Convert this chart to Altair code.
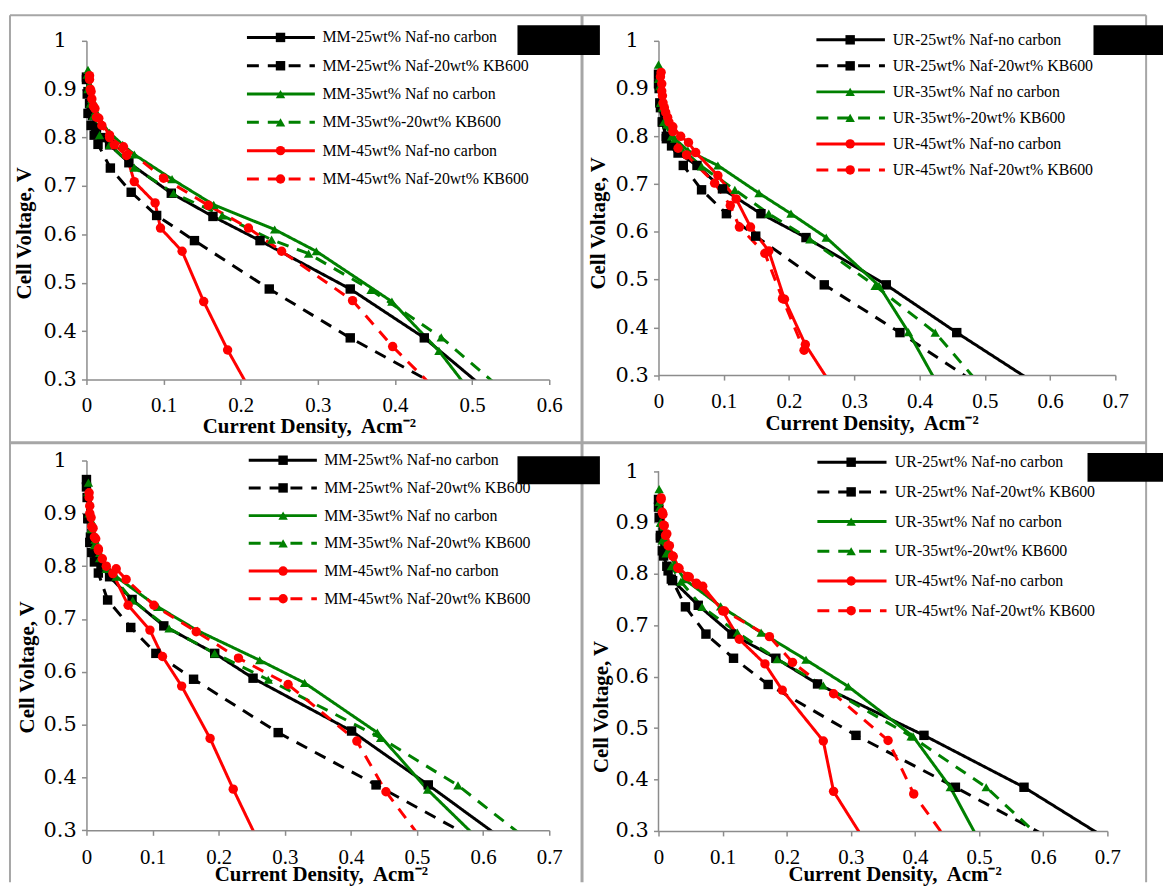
import altair as alt
import pandas as pd

# ---------------- data (current density A/cm2, cell voltage V) ----------------
# Top-left panel: MM electrodes
TL_25NC_X = [0.000, 0.002, 0.004, 0.008, 0.013, 0.020, 0.030, 0.055, 0.110, 0.164, 0.225, 0.342, 0.438, 0.525]
TL_25NC_Y = [0.925, 0.895, 0.870, 0.845, 0.820, 0.800, 0.785, 0.748, 0.685, 0.637, 0.587, 0.487, 0.386, 0.270]
TL_25KB_X = [0.000, 0.001, 0.002, 0.006, 0.010, 0.015, 0.031, 0.058, 0.091, 0.140, 0.237, 0.342, 0.475]
TL_25KB_Y = [0.920, 0.890, 0.850, 0.825, 0.805, 0.786, 0.737, 0.687, 0.639, 0.587, 0.487, 0.386, 0.270]
TL_35NC_X = [0.002, 0.004, 0.007, 0.012, 0.020, 0.030, 0.047, 0.062, 0.111, 0.165, 0.244, 0.298, 0.396, 0.457, 0.500]
TL_35NC_Y = [0.940, 0.910, 0.880, 0.855, 0.830, 0.810, 0.785, 0.765, 0.714, 0.661, 0.610, 0.565, 0.461, 0.359, 0.270]
TL_35KB_X = [0.001, 0.002, 0.005, 0.009, 0.017, 0.030, 0.062, 0.113, 0.176, 0.240, 0.288, 0.369, 0.460, 0.560]
TL_35KB_Y = [0.930, 0.900, 0.870, 0.845, 0.805, 0.785, 0.738, 0.685, 0.639, 0.589, 0.560, 0.485, 0.387, 0.250]
TL_45NC_X = [0.004, 0.005, 0.007, 0.011, 0.016, 0.030, 0.036, 0.052, 0.062, 0.089, 0.096, 0.124, 0.152, 0.183, 0.215]
TL_45NC_Y = [0.928, 0.900, 0.880, 0.860, 0.840, 0.805, 0.785, 0.763, 0.709, 0.665, 0.613, 0.565, 0.461, 0.361, 0.270]
TL_45KB_X = [0.004, 0.006, 0.009, 0.013, 0.020, 0.030, 0.048, 0.100, 0.158, 0.210, 0.253, 0.345, 0.397, 0.490]
TL_45KB_Y = [0.920, 0.895, 0.865, 0.842, 0.825, 0.800, 0.781, 0.716, 0.660, 0.613, 0.565, 0.463, 0.368, 0.220]

# Top-right panel: UR electrodes
TR_25NC_X = [0.000, 0.001, 0.003, 0.006, 0.012, 0.030, 0.059, 0.098, 0.157, 0.226, 0.349, 0.457, 0.603]
TR_25NC_Y = [0.930, 0.900, 0.860, 0.830, 0.800, 0.765, 0.739, 0.690, 0.638, 0.588, 0.489, 0.389, 0.260]
TR_25KB_X = [0.000, 0.002, 0.006, 0.012, 0.020, 0.038, 0.066, 0.104, 0.149, 0.254, 0.370, 0.512]
TR_25KB_Y = [0.910, 0.870, 0.830, 0.795, 0.780, 0.739, 0.688, 0.638, 0.591, 0.489, 0.389, 0.260]
TR_35NC_X = [0.000, 0.002, 0.006, 0.013, 0.025, 0.045, 0.091, 0.154, 0.203, 0.257, 0.338, 0.383, 0.436]
TR_35NC_Y = [0.950, 0.905, 0.860, 0.825, 0.795, 0.770, 0.739, 0.681, 0.638, 0.588, 0.487, 0.390, 0.260]
TR_35KB_X = [0.000, 0.003, 0.008, 0.020, 0.035, 0.066, 0.117, 0.169, 0.232, 0.332, 0.424, 0.505]
TR_35KB_Y = [0.920, 0.870, 0.830, 0.800, 0.775, 0.737, 0.688, 0.638, 0.584, 0.487, 0.389, 0.260]
TR_45NC_X = [0.004, 0.005, 0.006, 0.009, 0.014, 0.022, 0.034, 0.046, 0.057, 0.091, 0.119, 0.141, 0.169, 0.193, 0.225, 0.274]
TR_45NC_Y = [0.934, 0.910, 0.885, 0.860, 0.840, 0.820, 0.800, 0.787, 0.766, 0.718, 0.669, 0.610, 0.560, 0.459, 0.364, 0.260]
TR_45KB_X = [0.003, 0.005, 0.007, 0.011, 0.016, 0.022, 0.030, 0.043, 0.086, 0.110, 0.124, 0.163, 0.190, 0.223]
TR_45KB_Y = [0.925, 0.895, 0.870, 0.850, 0.830, 0.810, 0.775, 0.761, 0.702, 0.655, 0.610, 0.555, 0.460, 0.352]

# Bottom-left panel: MM electrodes
BL_25NC_X = [0.000, 0.001, 0.003, 0.006, 0.012, 0.022, 0.035, 0.069, 0.117, 0.194, 0.252, 0.401, 0.517, 0.655]
BL_25NC_Y = [0.964, 0.930, 0.890, 0.855, 0.825, 0.800, 0.780, 0.737, 0.687, 0.635, 0.588, 0.488, 0.386, 0.260]
BL_25KB_X = [0.000, 0.002, 0.005, 0.008, 0.012, 0.018, 0.032, 0.067, 0.105, 0.162, 0.290, 0.438, 0.636]
BL_25KB_Y = [0.950, 0.890, 0.845, 0.826, 0.808, 0.787, 0.736, 0.684, 0.635, 0.586, 0.485, 0.386, 0.250]
BL_35NC_X = [0.003, 0.005, 0.008, 0.013, 0.020, 0.030, 0.045, 0.108, 0.168, 0.262, 0.330, 0.440, 0.516, 0.620]
BL_35NC_Y = [0.958, 0.920, 0.885, 0.850, 0.825, 0.800, 0.780, 0.723, 0.678, 0.622, 0.579, 0.485, 0.377, 0.250]
BL_35KB_X = [0.002, 0.004, 0.007, 0.012, 0.020, 0.030, 0.070, 0.125, 0.194, 0.275, 0.445, 0.562, 0.700]
BL_35KB_Y = [0.940, 0.900, 0.870, 0.840, 0.815, 0.795, 0.735, 0.682, 0.635, 0.585, 0.475, 0.385, 0.250]
BL_45NC_X = [0.004, 0.005, 0.007, 0.010, 0.014, 0.018, 0.024, 0.040, 0.063, 0.096, 0.115, 0.144, 0.187, 0.222, 0.275]
BL_45NC_Y = [0.939, 0.914, 0.892, 0.872, 0.852, 0.833, 0.814, 0.786, 0.726, 0.679, 0.629, 0.573, 0.474, 0.378, 0.240]
BL_45KB_X = [0.004, 0.005, 0.008, 0.012, 0.018, 0.030, 0.045, 0.060, 0.102, 0.166, 0.230, 0.305, 0.409, 0.453, 0.527]
BL_45KB_Y = [0.930, 0.900, 0.875, 0.855, 0.830, 0.800, 0.795, 0.775, 0.726, 0.676, 0.626, 0.576, 0.469, 0.373, 0.250]

# Bottom-right panel: UR electrodes
BR_25NC_X = [0.000, 0.001, 0.003, 0.006, 0.013, 0.020, 0.062, 0.1145, 0.183, 0.248, 0.414, 0.570, 0.731]
BR_25NC_Y = [0.945, 0.910, 0.875, 0.845, 0.815, 0.790, 0.739, 0.683, 0.636, 0.586, 0.486, 0.385, 0.260]
BR_25KB_X = [0.000, 0.003, 0.008, 0.015, 0.022, 0.042, 0.074, 0.117, 0.171, 0.308, 0.463, 0.664]
BR_25KB_Y = [0.930, 0.870, 0.835, 0.806, 0.787, 0.736, 0.683, 0.636, 0.585, 0.486, 0.385, 0.250]
BR_35NC_X = [0.001, 0.002, 0.004, 0.008, 0.015, 0.025, 0.040, 0.097, 0.160, 0.230, 0.296, 0.397, 0.455, 0.509]
BR_35NC_Y = [0.965, 0.930, 0.900, 0.870, 0.845, 0.820, 0.790, 0.737, 0.686, 0.633, 0.581, 0.484, 0.385, 0.260]
BR_35KB_X = [0.001, 0.003, 0.006, 0.012, 0.020, 0.035, 0.068, 0.123, 0.185, 0.257, 0.394, 0.511, 0.628]
BR_35KB_Y = [0.940, 0.900, 0.865, 0.840, 0.815, 0.785, 0.736, 0.686, 0.634, 0.583, 0.484, 0.385, 0.250]
BR_45NC_X = [0.004, 0.007, 0.009, 0.013, 0.017, 0.023, 0.032, 0.048, 0.059, 0.069, 0.100, 0.126, 0.166, 0.193, 0.257, 0.273, 0.332]
BR_45NC_Y = [0.948, 0.916, 0.894, 0.878, 0.855, 0.834, 0.811, 0.794, 0.782, 0.776, 0.728, 0.673, 0.625, 0.574, 0.475, 0.377, 0.260]
BR_45KB_X = [0.004, 0.006, 0.008, 0.011, 0.015, 0.022, 0.030, 0.045, 0.060, 0.103, 0.173, 0.209, 0.273, 0.358, 0.398, 0.486]
BR_45KB_Y = [0.945, 0.920, 0.895, 0.875, 0.855, 0.835, 0.812, 0.795, 0.780, 0.728, 0.678, 0.628, 0.567, 0.476, 0.372, 0.220]

TL_LABELS = ["MM-25wt% Naf-no carbon", "MM-25wt% Naf-20wt% KB600", "MM-35wt% Naf no carbon",
             "MM-35wt%-20wt% KB600", "MM-45wt% Naf-no carbon", "MM-45wt% Naf-20wt% KB600"]
TR_LABELS = ["UR-25wt% Naf-no carbon", "UR-25wt% Naf-20wt% KB600", "UR-35wt% Naf no carbon",
             "UR-35wt%-20wt% KB600", "UR-45wt% Naf-no carbon", "UR-45wt% Naf-20wt% KB600"]
BL_LABELS = ["MM-25wt% Naf-no carbon", "MM-25wt% Naf-20wt% KB600", "MM-35wt% Naf no carbon",
             "MM-35wt% Naf-20wt% KB600", "MM-45wt% Naf-no carbon", "MM-45wt% Naf-20wt% KB600"]
BR_LABELS = ["UR-25wt% Naf-no carbon", "UR-25wt% Naf-20wt% KB600", "UR-35wt% Naf no carbon",
             "UR-35wt%-20wt% KB600", "UR-45wt% Naf-no carbon", "UR-45wt% Naf-20wt% KB600"]

GROUPS = ["25", "25", "35", "35", "45", "45"]
STYLES = ["solid", "dash", "solid", "dash", "solid", "dash"]
Y_TICKS = [0.3, 0.4, 0.5, 0.6, 0.7, 0.8, 0.9, 1.0]
X_TICKS_6 = [0, 0.1, 0.2, 0.3, 0.4, 0.5, 0.6]
X_TICKS_7 = [0, 0.1, 0.2, 0.3, 0.4, 0.5, 0.6, 0.7]

X_TITLE = "Current Density,\u00a0 Acm\u207b\u00b2"
Y_TITLE = "Cell Voltage, V"

# ---------------- styling ----------------
GREY = "#8C8C8C"
FRAME = "#A6A6A6"
color_scale = alt.Scale(domain=["25", "35", "45"], range=["#000000", "#008000", "#FF0000"])
shape_scale = alt.Scale(domain=["25", "35", "45"], range=["square", "triangle-up", "circle"])
dash_scale = alt.Scale(domain=["solid", "dash"], range=[[1, 0], [12, 9]])
MSIZE = 90

ONE = pd.DataFrame({"k": [0]})


def series_frame(series):
    rows = []
    for sid, (xs, ys) in enumerate(series):
        for i, (x, y) in enumerate(zip(xs, ys)):
            rows.append({"c": x, "v": y, "sid": sid, "grp": GROUPS[sid], "sty": STYLES[sid], "idx": i})
    return pd.DataFrame(rows)


def panel(series, labels, w, h, xticks, ydom, xt, yt, xpad, leg, extra_before=(), extra_after=(), hide_ydomain=False):
    df = series_frame(series)
    base = alt.Chart(df)
    x_axis = alt.Axis(values=xticks, format=".1~f", title=X_TITLE, grid=False,
                      domainColor=GREY, domainWidth=1.5, tickColor=GREY, tickWidth=1.5, tickSize=5,
                      labelFont="Liberation Serif", labelFontSize=21, labelColor="black",
                      labelPadding=xpad, labelFlush=False, labelOverlap=False,
                      titleFont="Liberation Serif", titleFontSize=21, titleFontWeight="bold",
                      titleColor="black", titleX=xt[0], titleY=xt[1], titleAlign="center",
                      titleBaseline="middle", titleAngle=0)
    y_axis = alt.Axis(values=Y_TICKS, format=".1~f", title=Y_TITLE, grid=False,
                      domain=not hide_ydomain,
                      domainColor=GREY, domainWidth=1.5, tickColor=GREY, tickWidth=1.5, tickSize=5,
                      labelFont="DejaVu Serif", labelFontSize=21, labelColor="black",
                      labelAlign="center", labelBaseline="middle", labelPadding=22,
                      labelFlush=False, labelOverlap=False,
                      titleFont="Liberation Serif", titleFontSize=21, titleFontWeight="bold",
                      titleColor="black", titleX=yt[0], titleY=yt[1], titleAlign="center",
                      titleBaseline="middle", titleAngle=270)
    xenc = alt.X("c:Q", scale=alt.Scale(domain=[0, xticks[-1]], nice=False, zero=False), axis=x_axis)
    yenc = alt.Y("v:Q", scale=alt.Scale(domain=ydom, nice=False, zero=False), axis=y_axis)
    col = alt.Color("grp:N", scale=color_scale, legend=None)
    shp = alt.Shape("grp:N", scale=shape_scale, legend=None)
    dsh = alt.StrokeDash("sty:N", scale=dash_scale, legend=None)

    lines = base.mark_line(clip=True, strokeWidth=3).encode(
        x=xenc, y=yenc, color=col, strokeDash=dsh, detail="sid:N", order="idx:Q")
    pts = base.transform_filter("datum.v >= 0.3").mark_point(filled=True, size=MSIZE, opacity=1).encode(
        x=alt.X("c:Q"), y=alt.Y("v:Q"), color=col, shape=shp)

    ldf = pd.DataFrame({"label": labels, "grp": GROUPS, "sty": STYLES, "row": list(range(6))})
    lbase = alt.Chart(ldf).transform_calculate(py=f"{leg['y0']} + {leg['step']} * datum.row")
    ly = alt.Y("py:Q", scale=None, axis=None)
    l_rule = lbase.mark_rule(strokeWidth=3).encode(
        x=alt.value(leg["x1"]), x2=alt.value(leg["x2"]), y=ly, color=col, strokeDash=dsh)
    l_pt = lbase.mark_point(filled=True, size=MSIZE, opacity=1).encode(
        x=alt.value(leg["mx"]), y=ly, color=col, shape=shp)
    l_txt = lbase.mark_text(align="left", baseline="middle", font="Liberation Serif",
                            fontSize=16, color="black").encode(
        x=alt.value(leg["tx"]), y=ly, text="label:N")

    layers = list(extra_before) + [lines, pts, l_rule, l_pt, l_txt] + list(extra_after)
    return alt.layer(*layers).properties(width=w, height=h)


def hline(x1, x2, y, width=2):
    return alt.Chart(ONE).mark_rule(color=FRAME, strokeWidth=width).encode(
        x=alt.value(x1), x2=alt.value(x2), y=alt.value(y))


def vline(x, y1, y2, width=2):
    return alt.Chart(ONE).mark_rule(color=FRAME, strokeWidth=width).encode(
        x=alt.value(x), y=alt.value(y1), y2=alt.value(y2))


def box(x1, x2, y1, y2):
    return alt.Chart(ONE).mark_rect(color="black").encode(
        x=alt.value(x1), x2=alt.value(x2), y=alt.value(y1), y2=alt.value(y2))


frames = [
    hline(-77, 1067, -25.7),
    vline(-77, -25.7, 847.3),
    vline(499, -25.7, 847.3, 3),
    hline(-77, 1067, 404.8, 3),
    vline(1067, -25.7, 847.3),
]
boxes = [
    box(434, 517, -15.7, 14.3),
    box(1014, 1084, -15.7, 14.3),
    box(434, 517, 418.3, 446.6),
    box(1008, 1084, 415.0, 444.0),
]

tl = panel([(TL_25NC_X, TL_25NC_Y), (TL_25KB_X, TL_25KB_Y), (TL_35NC_X, TL_35NC_Y),
            (TL_35KB_X, TL_35KB_Y), (TL_45NC_X, TL_45NC_Y), (TL_45KB_X, TL_45KB_Y)],
           TL_LABELS, 466, 341, X_TICKS_6, [0.3, 1.0], (224, 47.3), (-62, 193.3), 10,
           dict(y0=-3.4, step=28.5, x1=161.6, x2=230, mx=195.4, tx=237.6),
           extra_before=frames, extra_after=boxes)

tr = panel([(TR_25NC_X, TR_25NC_Y), (TR_25KB_X, TR_25KB_Y), (TR_35NC_X, TR_35NC_Y),
            (TR_35KB_X, TR_35KB_Y), (TR_45NC_X, TR_45NC_Y), (TR_45KB_X, TR_45KB_Y)],
           TR_LABELS, 460, 336.6, X_TICKS_7, [0.3, 1.0], (214.6, 48.7), (-60, 183.3), 11,
           dict(y0=-1.0, step=26.2, x1=159, x2=228, mx=193, tx=236))

bl = panel([(BL_25NC_X, BL_25NC_Y), (BL_25KB_X, BL_25KB_Y), (BL_35NC_X, BL_35NC_Y),
            (BL_35KB_X, BL_35KB_Y), (BL_45NC_X, BL_45NC_Y), (BL_45KB_X, BL_45KB_Y)],
           BL_LABELS, 466, 372.4, X_TICKS_7, [0.3, 1.0], (236, 44.5), (-59, 207.7), 11,
           dict(y0=-0.3, step=27.9, x1=163.4, x2=232, mx=198, tx=239.4))

br_axis = alt.Chart(ONE).mark_rule(color=GREY, strokeWidth=1.5).encode(
    x=alt.datum(0), y=alt.datum(0.3), y2=alt.datum(1.0))
br = panel([(BR_25NC_X, BR_25NC_Y), (BR_25KB_X, BR_25KB_Y), (BR_35NC_X, BR_35NC_Y),
            (BR_35KB_X, BR_35KB_Y), (BR_45NC_X, BR_45NC_Y), (BR_45KB_X, BR_45KB_Y)],
           BR_LABELS, 452, 373, X_TICKS_7, [0.3, 1.0207], (237.7, 44.0), (-57, 247.7), 11,
           dict(y0=1.7, step=29.9, x1=160, x2=229.6, mx=194, tx=238),
           extra_before=[br_axis], hide_ydomain=True)

chart = alt.concat(tl, tr, bl, br, columns=2, spacing={"row": 81.6, "column": 110},
                   bounds="flush").properties(
    padding={"left": 0, "top": 2, "right": 0, "bottom": 0},
    background="white",
).configure_view(strokeWidth=0)

chart.save("out.html", embed_options={"renderer": "svg", "actions": False})
